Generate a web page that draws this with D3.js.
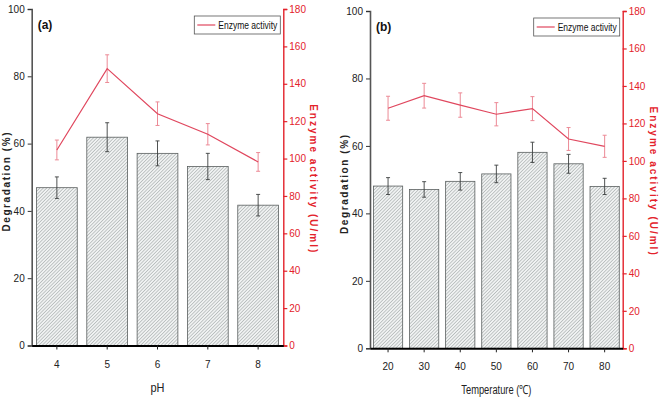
<!DOCTYPE html>
<html>
<head>
<meta charset="utf-8">
<script src="https://cdn.jsdelivr.net/npm/d3@7"></script>
<style>
  body { margin: 0; background: #fff; }
  svg text { font-family: "Liberation Sans", Arial, sans-serif; }
</style>
</head>
<body>
<div id="chart"></div>
<script>
// DATA

const phCats = ['4', '5', '6', '7', '8'];
const phDeg = [46.9, 61.9, 57.1, 53.2, 41.7];
const phDegErr = [3.2, 4.3, 3.7, 3.9, 3.2];
const phAct = [104.6, 148.1, 124.0, 113.0, 98.2];
const phActErr = [5.3, 7.4, 6.3, 5.7, 5.0];

const tempCats = ['20', '30', '40', '50', '60', '70', '80'];
const tempDeg = [48.1, 47.1, 49.5, 51.7, 58.1, 54.7, 48.0];
const tempDegErr = [2.5, 2.3, 2.6, 2.6, 3.0, 2.8, 2.4];
const tempAct = [128.1, 134.8, 129.8, 124.9, 127.9, 111.7, 107.8];
const tempActErr = [6.4, 6.6, 6.5, 6.2, 6.4, 6.1, 5.9];

const degTicks = [0, 20, 40, 60, 80, 100];
const actTicks = [0, 20, 40, 60, 80, 100, 120, 140, 160, 180];

const width = 661;
const height = 403;
const red = '#e3222b';
const lineRed = '#e0475e';

const svg = d3.select('#chart')
    .append('svg')
        .attr('width', width)
        .attr('height', height);

// hatch for bars
const pat = svg.append('defs')
    .append('pattern')
        .attr('id', 'hatch')
        .attr('patternUnits', 'userSpaceOnUse')
        .attr('width', 2.4)
        .attr('height', 2.4)
        .attr('patternTransform', 'rotate(45)');
pat.append('rect')
    .attr('width', 2.4)
    .attr('height', 2.4)
    .attr('fill', '#f0f2f2');
pat.append('line')
    .attr('x1', 0).attr('y1', 0)
    .attr('x2', 0).attr('y2', 2.4)
    .attr('stroke', '#959b9b')
    .attr('stroke-width', 1);

// narrow text look
const narrow = (sel, w) => sel.attr('textLength', w).attr('lengthAdjust', 'spacingAndGlyphs');

function panel(o) {

    const g = svg.append('g');

    const x = d3.scaleBand()
        .domain(o.cats)
        .range([o.left, o.right])
        .paddingInner(0.19)
        .paddingOuter(0.095);
    const y = d3.scaleLinear()
        .domain([0, 100])
        .range([o.bottom, o.top]);
    const y2 = d3.scaleLinear()
        .domain([0, 180])
        .range([o.bottom, o.top]);

    // bars
    g.selectAll('rect.bar')
        .data(o.deg)
        .join('rect')
            .attr('class', 'bar')
            .attr('x', (d, i) => x(o.cats[i]))
            .attr('y', d => y(d))
            .attr('width', x.bandwidth())
            .attr('height', d => y(0) - y(d))
            .attr('fill', 'url(#hatch)')
            .attr('stroke', '#5a5f5f')
            .attr('stroke-width', 0.8);

    // bar error bars
    const cx = (i) => x(o.cats[i]) + x.bandwidth() / 2;
    const eb = g.append('g')
        .attr('stroke', '#3c4040')
        .attr('stroke-width', 0.9);
    o.deg.forEach((d, i) => {
        const e = o.degErr[i];
        eb.append('line')
            .attr('x1', cx(i)).attr('x2', cx(i))
            .attr('y1', y(d + e)).attr('y2', y(d - e));
        [d + e, d - e].forEach(v => eb.append('line')
            .attr('x1', cx(i) - 2).attr('x2', cx(i) + 2)
            .attr('y1', y(v)).attr('y2', y(v)));
    });

    // activity line + error bars
    const l = d3.line()
        .x((d, i) => cx(i))
        .y(d => y2(d));
    const le = g.append('g')
        .attr('stroke', '#ec8a96')
        .attr('stroke-width', 1);
    o.act.forEach((d, i) => {
        const e = o.actErr[i];
        le.append('line')
            .attr('x1', cx(i)).attr('x2', cx(i))
            .attr('y1', y2(d + e)).attr('y2', y2(d - e));
        [d + e, d - e].forEach(v => le.append('line')
            .attr('x1', cx(i) - 2).attr('x2', cx(i) + 2)
            .attr('y1', y2(v)).attr('y2', y2(v)));
    });
    g.append('path')
        .datum(o.act)
            .attr('fill', 'none')
            .attr('stroke', lineRed)
            .attr('stroke-width', 1.2)
            .attr('d', l);

    // left axis
    g.append('g')
        .attr('transform', `translate(${o.left},0)`)
        .call(d3.axisLeft(y).tickValues(degTicks).tickSize(4).tickPadding(3))
        .call(g => g.select('.domain').attr('stroke', '#555').attr('stroke-width', 1.6))
        .call(g => g.selectAll('.tick line').attr('stroke', '#333'))
        .call(g => g.selectAll('.tick text').attr('font-size', 10).attr('fill', '#222')
            .attr('font-family', '"Liberation Sans", Arial, sans-serif'));

    // right axis
    g.append('g')
        .attr('transform', `translate(${o.right},0)`)
        .call(d3.axisRight(y2).tickValues(actTicks).tickSize(4).tickPadding(2))
        .call(g => g.select('.domain').attr('stroke', red).attr('stroke-width', 1.4))
        .call(g => g.selectAll('.tick line').attr('stroke', red).attr('stroke-width', 1.2))
        .call(g => g.selectAll('.tick text').attr('font-size', 10).attr('fill', red)
            .attr('font-family', '"Liberation Sans", Arial, sans-serif'));

    // bottom axis
    g.append('g')
        .attr('transform', `translate(0,${o.bottom})`)
        .call(d3.axisBottom(x).tickSize(4).tickPadding(11).tickSizeOuter(0))
        .call(g => g.select('.domain').attr('stroke', '#000').attr('stroke-width', 2))
        .call(g => g.selectAll('.tick line').attr('stroke', '#222'))
        .call(g => g.selectAll('.tick text').attr('font-size', 10).attr('fill', '#222')
            .attr('font-family', '"Liberation Sans", Arial, sans-serif'));

    // axis titles
    const mid = (o.top + o.bottom) / 2;
    g.append('text')
        .attr('transform', `translate(${o.left - 22},${mid + 4}) rotate(-90)`)
        .attr('text-anchor', 'middle')
        .attr('font-size', 10)
        .attr('font-weight', 'bold')
        .attr('letter-spacing', 1.6)
        .attr('font-family', 'DejaVu Sans, sans-serif')
        .attr('fill', '#222')
        .text('Degradation (%)');
    g.append('text')
        .attr('transform', `translate(${o.right + 27},${mid + 2}) rotate(90)`)
        .attr('text-anchor', 'middle')
        .attr('font-size', 10)
        .attr('font-weight', 'bold')
        .attr('letter-spacing', 2)
        .attr('font-family', 'DejaVu Sans, sans-serif')
        .attr('fill', red)
        .text('Enzyme activity (U/ml)');
    g.append('text')
        .attr('x', (o.left + o.right) / 2)
        .attr('y', o.bottom + 46)
        .attr('text-anchor', 'middle')
        .attr('font-size', 12.5)
        .attr('fill', '#222')
        .call(t => narrow(t, o.xTitleW))
        .text(o.xTitle);

    // panel tag
    g.append('text')
        .attr('x', o.left + 6)
        .attr('y', o.top + 20)
        .attr('font-size', 12)
        .attr('font-weight', 'bold')
        .attr('font-family', 'Liberation Sans, Arial, sans-serif')
        .attr('fill', '#111')
        .text(o.tag);

    // legend
    const lg = g.append('g')
        .attr('transform', `translate(${o.right - 89},${o.top + 7})`);
    lg.append('rect')
        .attr('width', 86)
        .attr('height', 18)
        .attr('fill', '#fff')
        .attr('stroke', '#555')
        .attr('stroke-width', 0.8);
    lg.append('line')
        .attr('x1', 3).attr('x2', 21)
        .attr('y1', 9).attr('y2', 9)
        .attr('stroke', lineRed)
        .attr('stroke-width', 1.2);
    lg.append('text')
        .attr('x', 24)
        .attr('y', 13)
        .attr('font-size', 11)
        .attr('fill', '#111')
        .call(t => narrow(t, 59))
        .text('Enzyme activity');
}

panel({
    cats: phCats, deg: phDeg, degErr: phDegErr, act: phAct, actErr: phActErr,
    left: 31.7, right: 283.3, top: 9, bottom: 345.5,
    xTitle: 'pH', xTitleW: 14, tag: '(a)'
});

panel({
    cats: tempCats, deg: tempDeg, degErr: tempDegErr, act: tempAct, actErr: tempActErr,
    left: 370, right: 622.7, top: 11, bottom: 348.3,
    xTitle: 'Temperature (\u2103)', xTitleW: 70, tag: '(b)'
});
</script>
</body>
</html>
